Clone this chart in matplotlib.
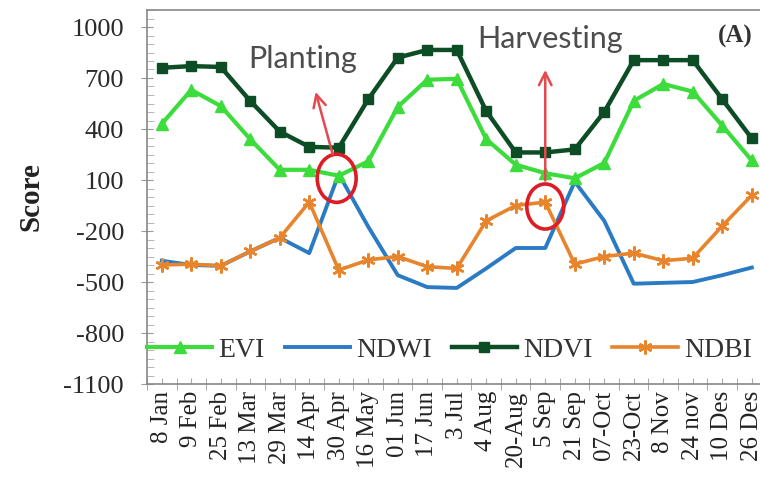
import matplotlib.pyplot as plt
from matplotlib.patches import Ellipse
from matplotlib.ticker import MultipleLocator

plt.rcParams['axes.unicode_minus'] = False

dates = ['8 Jan', '9 Feb', '25 Feb', '13 Mar', '29 Mar', '14 Apr', '30 Apr', '16 May',
         '01 Jun', '17 Jun', '3 Jul', '4 Aug', '20-Aug', '5 Sep', '21 Sep', '07-Oct',
         '23-Oct', '8 Nov', '24 nov', '10 Des', '26 Des']
evi = [430, 630, 535, 340, 160, 160, 125, 210, 530, 690, 695, 340, 190, 140, 110, 200,
       565, 665, 620, 420, 215]
ndwi = [-375, -400, -405, -320, -240, -330, 135, -175, -460, -530, -535, -420, -300, -300,
        90, -140, -510, -505, -500, -460, -415]
ndvi = [760, 770, 765, 565, 385, 295, 290, 575, 820, 865, 865, 505, 262, 262, 280, 500,
        805, 805, 805, 575, 345]
ndbi = [-400, -395, -405, -320, -240, -30, -430, -370, -350, -410, -420, -140, -50, -30,
        -395, -350, -330, -375, -360, -170, 10]

serif = 'Liberation Serif'
fig = plt.figure(figsize=(7.6, 4.86), dpi=100)
ax = fig.add_axes([147 / 760, 102 / 486, 619.5 / 760, 374 / 486])

x = range(len(dates))
ax.plot(x, evi, color='#3ddc3d', lw=3, marker='^', ms=8.5, label='EVI', zorder=3)
ax.plot(x, ndwi, color='#2a7bc4', lw=2.8, label='NDWI', zorder=2)
ax.plot(x, ndvi, color='#0d4d25', lw=3.2, marker='s', ms=7.5, label='NDVI', zorder=3)
ax.plot(x, ndbi, color='#e8842c', lw=2.6, marker=(6, 2, 0), ms=10, mew=1.8,
        label='NDBI', zorder=2)

# event markers
red = '#dd1c25'
ax.add_patch(Ellipse((5.93, 110), 1.32, 283, fill=False, ec=red, lw=2.6, zorder=5))
ax.add_patch(Ellipse((13.0, -56), 1.25, 265, fill=False, ec=red, lw=2.6, zorder=5))
arrow = dict(arrowstyle='->,head_length=0.9,head_width=0.45', color='#e5484f', lw=1.8)
ax.annotate('', xy=(5.19, 634), xytext=(5.82, 235), arrowprops=arrow, zorder=6)
ax.annotate('', xy=(13.0, 764), xytext=(13.0, 80), arrowprops=arrow, zorder=6)
ax.text(4.78, 812, 'Planting', fontsize=22, color='#4d4d4d', family='Lato',
        ha='center', va='center')
ax.text(13.15, 930, 'Harvesting', fontsize=22, color='#4d4d4d', family='Lato',
        ha='center', va='center')
ax.text(19.45, 945, '(A)', fontsize=18, fontweight='bold', family=serif,
        color='#333333', ha='center', va='center')

ax.set_xlim(-0.5, len(dates) - 0.5)
ax.set_ylim(-1100, 1100)
ax.yaxis.set_minor_locator(MultipleLocator(50))
ax.set_yticks(range(-1100, 1001, 300))
ax.set_xticks(range(len(dates)))
ax.set_xticklabels(dates, rotation=90, family=serif, fontsize=18, color='#222222')
ax.set_xticks([i - 0.5 for i in range(len(dates) + 1)], minor=True)
for lab in ax.get_yticklabels():
    lab.set_family(serif)
    lab.set_fontsize(19)
    lab.set_color('#2a2a2a')
ax.tick_params(axis='y', which='major', direction='inout', length=9, color='#999999',
               pad=12)
ax.tick_params(axis='y', which='minor', direction='in', length=5, color='#aaaaaa')
ax.tick_params(axis='x', which='major', direction='in', length=4, color='#aaaaaa', pad=5)
ax.tick_params(axis='x', which='minor', direction='inout', length=9, color='#999999')
for s in ax.spines.values():
    s.set_color('#888888')
    s.set_linewidth(1.2)

ax.set_ylabel('Score', family=serif, fontsize=21, fontweight='bold', color='#222222',
              labelpad=14)

leg = ax.legend(loc='center left', bbox_to_anchor=(0.0, 0.091), ncol=4, frameon=False,
                borderaxespad=0, borderpad=0, handlelength=2.35, handletextpad=0.22,
                columnspacing=0.72, prop={'family': serif, 'size': 20})
for t in leg.get_texts():
    t.set_color('#333333')

fig.savefig('out.png', dpi=100)
